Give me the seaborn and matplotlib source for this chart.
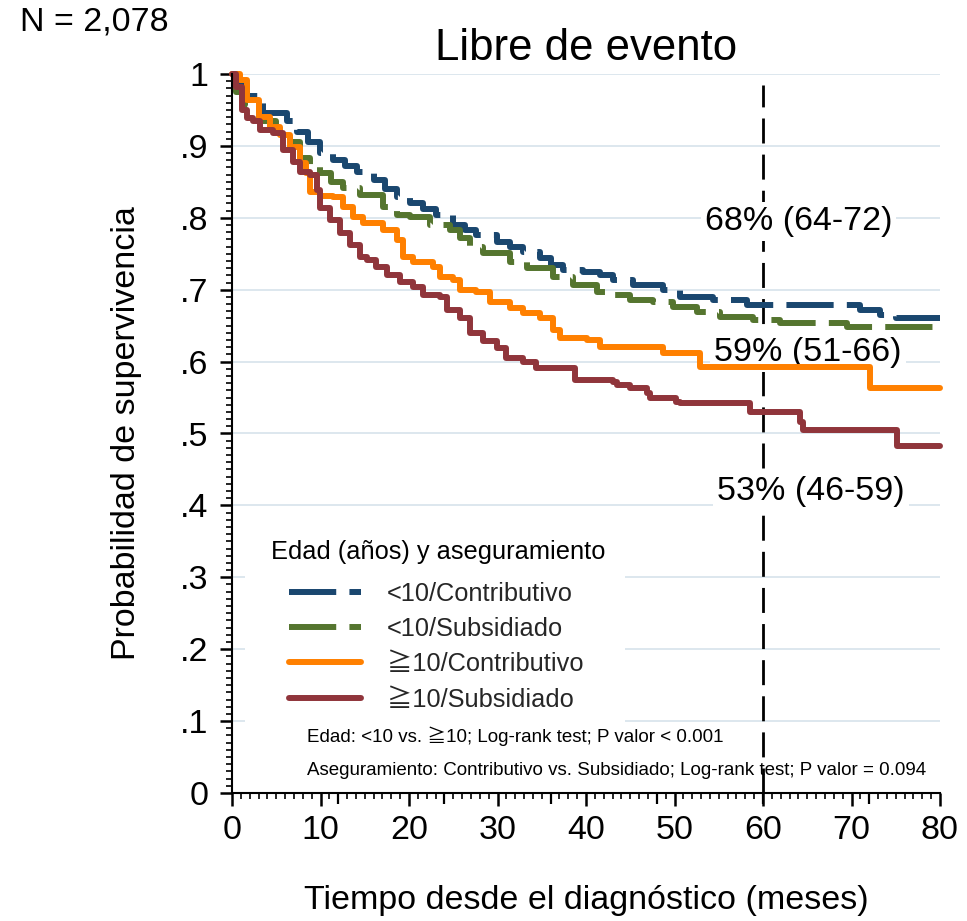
import numpy as np
import pandas as pd
import matplotlib
matplotlib.use("Agg")
import matplotlib.pyplot as plt
from matplotlib.lines import Line2D
from matplotlib.patches import Rectangle
from matplotlib.ticker import MultipleLocator
import seaborn as sns

# ---------------- data ----------------
groups = ["<10/Contributivo", "<10/Subsidiado", "≧10/Contributivo", "≧10/Subsidiado"]

t_blue = [0, 0.5, 1.7, 3.5, 6.2, 7.3, 8.6, 9.9, 11.4, 12.8, 14.1, 16.0, 17.3, 18.6, 20.1, 21.6,
          23.1, 25.0, 26.3, 27.6, 29.9, 31.4, 32.9, 34.8, 36.0, 37.4, 39.7, 41.6, 43.0, 45.3,
          48.7, 50.6, 54.4, 58.2, 71.0, 73.2, 75.0, 80]
s_blue = [1.0, 0.985, 0.969, 0.946, 0.934, 0.92, 0.905, 0.89, 0.88, 0.872, 0.864, 0.853, 0.84,
          0.829, 0.82, 0.812, 0.804, 0.79, 0.783, 0.776, 0.767, 0.76, 0.753, 0.744, 0.735, 0.727,
          0.725, 0.72, 0.713, 0.707, 0.70, 0.69, 0.686, 0.679, 0.672, 0.665, 0.66, 0.66]

t_green = [0, 0.5, 1.5, 3.0, 5.0, 6.5, 7.7, 8.8, 9.9, 11.2, 12.5, 14.5, 17.1, 18.6, 20.1, 22.4,
           24.6, 25.8, 26.9, 28.4, 31.4, 33.3, 36.3, 38.5, 41.2, 42.5, 45.0, 47.6, 49.8, 52.5,
           55.1, 58.9, 61.9, 69.5, 80]
s_green = [1.0, 0.975, 0.955, 0.935, 0.92, 0.905, 0.883, 0.872, 0.862, 0.85, 0.841, 0.832,
           0.815, 0.804, 0.801, 0.79, 0.783, 0.772, 0.76, 0.751, 0.739, 0.73, 0.718, 0.707,
           0.697, 0.692, 0.686, 0.683, 0.676, 0.669, 0.662, 0.658, 0.654, 0.648, 0.648]

t_orange = [0, 0.9, 1.7, 3.0, 4.3, 5.4, 6.6, 7.7, 8.4, 8.8, 9.9, 11.4, 12.5, 13.7, 14.8, 17.1,
            18.6, 19.3, 20.5, 22.7, 23.5, 25.0, 25.8, 27.6, 29.2, 31.4, 32.9, 34.8, 36.3, 37.1,
            40.1, 41.6, 48.7, 52.9, 72.1, 80]
s_orange = [1.0, 0.992, 0.964, 0.94, 0.926, 0.915, 0.899, 0.876, 0.862, 0.836, 0.831, 0.829,
            0.815, 0.801, 0.793, 0.783, 0.769, 0.746, 0.739, 0.732, 0.718, 0.713, 0.70, 0.697,
            0.683, 0.674, 0.668, 0.661, 0.644, 0.633, 0.63, 0.621, 0.612, 0.593, 0.563, 0.563]

t_red = [0, 0.5, 1.1, 1.7, 2.4, 3.2, 4.6, 5.8, 6.9, 7.7, 8.8, 9.6, 9.9, 11.1, 12.2, 13.3, 14.5,
         15.2, 16.3, 17.5, 19.0, 20.5, 21.6, 23.5, 24.3, 25.8, 26.9, 28.4, 29.9, 31.0, 32.9,
         34.4, 38.8, 43.0, 43.5, 45.0, 46.9, 47.2, 50.2, 50.6, 58.5, 64.2, 64.5, 75.1, 80]
s_red = [1.0, 0.982, 0.95, 0.939, 0.934, 0.922, 0.918, 0.894, 0.878, 0.864, 0.859, 0.838, 0.813,
         0.797, 0.779, 0.762, 0.746, 0.741, 0.732, 0.72, 0.711, 0.704, 0.692, 0.69, 0.672,
         0.661, 0.64, 0.628, 0.619, 0.605, 0.60, 0.591, 0.574, 0.572, 0.568, 0.563, 0.556,
         0.549, 0.544, 0.542, 0.53, 0.516, 0.505, 0.482, 0.482]

times = [t_blue, t_green, t_orange, t_red]
survs = [s_blue, s_green, s_orange, s_red]

x_ticks = [0, 10, 20, 30, 40, 50, 60, 70, 80]
y_ticks = [0, .1, .2, .3, .4, .5, .6, .7, .8, .9, 1]
y_ticklabels = ["0", ".1", ".2", ".3", ".4", ".5", ".6", ".7", ".8", ".9", "1"]
year_ticks = [12, 24, 36, 48, 60, 72]

ref_time = 60
annot_labels = ["68% (64-72)", "59% (51-66)", "53% (46-59)"]
annot_x = [64.0, 65.1, 65.4]
annot_y = [0.795, 0.613, 0.419]

title = "Libre de evento"
xlabel = "Tiempo desde el diagnóstico (meses)"
ylabel = "Probabilidad de supervivencia"
n_text = "N = 2,078"
legend_title = "Edad (años) y aseguramiento"
notes = ["Edad: <10 vs. ≧10; Log-rank test; P valor < 0.001",
         "Aseguramiento: Contributivo vs. Subsidiado; Log-rank test; P valor = 0.094"]

# ---------------- style ----------------
colors = ["#1a476f", "#55752f", "#ff8000", "#90353b"]
dash = (0, (34, 9.5))          # in points (dash scaling disabled)
styles = [dash, dash, "-", "-"]
lws = [4.3, 4.3, 4.3, 4.3]
grid_color = "#dde7ee"

sns.set_theme(style="white")
plt.rcParams["font.family"] = ["Liberation Sans", "Noto Sans CJK JP", "DejaVu Sans"]
plt.rcParams["lines.scale_dashes"] = False

W, H = 967, 921
fig = plt.figure(figsize=(W / 100, H / 100), dpi=100)
ax = fig.add_axes([232 / W, 1 - 793 / H, 708 / W, 719 / H])

ax.set_xlim(0, 80)
ax.set_ylim(0, 1)

# grid
for yv in y_ticks[1:]:
    ax.axhline(yv, color=grid_color, lw=1.4, zorder=0.5)

# white legend area
ax.add_patch(Rectangle((0.018, 0.011), 0.537, 0.376, transform=ax.transAxes,
                       facecolor="white", edgecolor="none", zorder=0.8))

# reference line
ax.plot([ref_time, ref_time], [0, 0.985], color="black", lw=2.0,
        linestyle=(0, (18, 8)), zorder=1.2, clip_on=False)

for lab, x, y in zip(annot_labels, annot_x, annot_y):
    ax.text(x, y, lab, ha="center", va="center", fontsize=24.5, color="black",
            zorder=1.5, bbox=dict(boxstyle="square,pad=0.12", facecolor="white", edgecolor="none"))

# curves
for name, t, s, c, ls, lw in zip(groups, times, survs, colors, styles, lws):
    df = pd.DataFrame({"t": t, "s": s})
    sns.lineplot(data=df, x="t", y="s", ax=ax, color=c, linestyle=ls, linewidth=lw,
                 drawstyle="steps-post", estimator=None, sort=False, legend=False,
                 zorder=2, clip_on=False)

# axes styling
for sp in ["top", "right"]:
    ax.spines[sp].set_visible(False)
for sp in ["left", "bottom"]:
    ax.spines[sp].set_color("black")
    ax.spines[sp].set_linewidth(1.5)

ax.set_xticks(x_ticks)
ax.set_xticklabels([str(v) for v in x_ticks])
ax.set_yticks(y_ticks)
ax.set_yticklabels(y_ticklabels)
ax.xaxis.set_minor_locator(MultipleLocator(1))
ax.yaxis.set_minor_locator(MultipleLocator(0.01))
ax.tick_params(axis="x", which="major", direction="out", length=9, width=1.8,
               labelsize=24.5, colors="black", pad=7, bottom=True)
ax.tick_params(axis="y", which="major", direction="out", length=9, width=1.8,
               labelsize=24.5, colors="black", pad=8, left=True)
ax.tick_params(axis="both", which="minor", direction="out", length=4.5, width=1.2,
               colors="black", bottom=True, left=True)

sec = ax.secondary_xaxis("bottom")
sec.set_xticks(year_ticks)
sec.set_xticklabels([""] * len(year_ticks))
sec.tick_params(length=8, width=1.6, direction="out", colors="black")
sec.spines["bottom"].set_visible(False)

ax.set_xlabel(xlabel, fontsize=24.5, labelpad=28, color="black")
ax.set_ylabel(ylabel, fontsize=24.5, labelpad=27, color="black")
ax.set_title(title, fontsize=31.5, color="black", pad=10)

fig.text(20 / W, 1 - 22 / H, n_text, fontsize=24.5, ha="left", va="center", color="black")

# legend
handles = [Line2D([], [], color=c, linestyle=ls, linewidth=lw) for c, ls, lw in zip(colors, styles, lws)]
leg = ax.legend(handles, groups, loc="upper left", bbox_to_anchor=(289 / W, 1 - 582 / H),
                bbox_transform=fig.transFigure, frameon=False, fontsize=18.3,
                handlelength=2.85, handletextpad=1.0, labelspacing=0.44,
                borderpad=0, borderaxespad=0)
leg.set_zorder(3)
fig.text(271 / W, 1 - 552 / H, legend_title, fontsize=18.3, ha="left", va="center", color="black")

fig.text(307 / W, 1 - 736 / H, notes[0], fontsize=13.5, ha="left", va="center", color="black")
fig.text(307 / W, 1 - 770 / H, notes[1], fontsize=13.5, ha="left", va="center", color="black")

fig.savefig("out.png", dpi=100)
